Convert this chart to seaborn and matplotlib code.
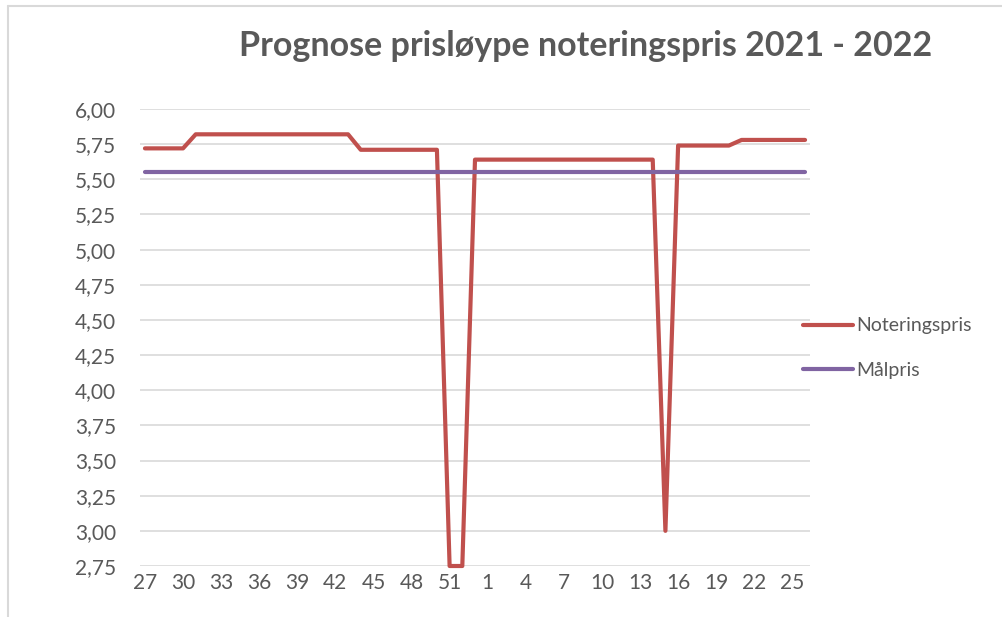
import matplotlib
matplotlib.use("Agg")
import matplotlib.pyplot as plt
import pandas as pd
import seaborn as sns
from matplotlib.lines import Line2D
from matplotlib.ticker import FixedLocator, FuncFormatter

# uke 27 (2021) til uke 26 (2022)
weeks = [27, 28, 29, 30, 31, 32, 33, 34, 35, 36, 37, 38, 39, 40, 41, 42, 43,
         44, 45, 46, 47, 48, 49, 50, 51, 52, 53,
         1, 2, 3, 4, 5, 6, 7, 8, 9, 10, 11, 12, 13, 14, 15, 16, 17, 18, 19,
         20, 21, 22, 23, 24, 25, 26]

noteringspris = [5.72, 5.72, 5.72, 5.72,
                 5.82, 5.82, 5.82, 5.82, 5.82, 5.82, 5.82, 5.82, 5.82, 5.82,
                 5.82, 5.82, 5.82,
                 5.71, 5.71, 5.71, 5.71, 5.71, 5.71, 5.71,
                 2.75, 2.75,
                 5.64, 5.64, 5.64, 5.64, 5.64, 5.64, 5.64, 5.64, 5.64, 5.64,
                 5.64, 5.64, 5.64, 5.64, 5.64,
                 3.00,
                 5.74, 5.74, 5.74, 5.74, 5.74,
                 5.78, 5.78, 5.78, 5.78, 5.78, 5.78]

malpris = [5.55, 5.55, 5.55, 5.55, 5.55, 5.55, 5.55, 5.55, 5.55, 5.55,
           5.55, 5.55, 5.55, 5.55, 5.55, 5.55, 5.55, 5.55, 5.55, 5.55,
           5.55, 5.55, 5.55, 5.55, 5.55, 5.55, 5.55, 5.55, 5.55, 5.55,
           5.55, 5.55, 5.55, 5.55, 5.55, 5.55, 5.55, 5.55, 5.55, 5.55,
           5.55, 5.55, 5.55, 5.55, 5.55, 5.55, 5.55, 5.55, 5.55, 5.55,
           5.55, 5.55, 5.55]

y_ticks = [2.75, 3.00, 3.25, 3.50, 3.75, 4.00, 4.25, 4.50, 4.75, 5.00,
           5.25, 5.50, 5.75, 6.00]

TEXT = "#595959"
GRID = "#d9d9d9"
colors = {"Noteringspris": "#c0504d", "Målpris": "#8064a2"}

sns.set_style("white")
plt.rcParams["font.family"] = ["Lato", "DejaVu Sans"]

pos = list(range(len(weeks)))
df = pd.concat([
    pd.DataFrame({"pos": pos, "pris": noteringspris, "serie": "Noteringspris"}),
    pd.DataFrame({"pos": pos, "pris": malpris, "serie": "Målpris"}),
])

fig = plt.figure(figsize=(10.03, 6.17), dpi=100)
ax = fig.add_axes([140 / 1003, 51 / 617, 670 / 1003, 457 / 617])

sns.lineplot(data=df, x="pos", y="pris", hue="serie", palette=colors,
             linewidth=3.0, ax=ax, legend=False, sort=False)
for line in ax.lines:
    line.set_solid_capstyle("round")
    line.set_solid_joinstyle("round")
    line.set_clip_on(False)
ax.set_xlim(-0.39, len(weeks) - 1 + 0.39)
ax.set_ylim(2.75, 6.0)

ax.yaxis.set_major_locator(FixedLocator(y_ticks))
ax.yaxis.set_major_formatter(FuncFormatter(lambda v, _: f"{v:.2f}".replace(".", ",")))
tick_pos = pos[::3]
ax.set_xticks(tick_pos)
ax.set_xticklabels([str(weeks[i]) for i in tick_pos])

ax.grid(axis="y", color=GRID, linewidth=1.2)
ax.set_axisbelow(True)
for s in ax.spines.values():
    s.set_visible(False)
ax.tick_params(axis="both", length=0, labelsize=15, colors=TEXT)
ax.tick_params(axis="y", pad=17)
ax.tick_params(axis="x", pad=5)
ax.set_xlabel("")
ax.set_ylabel("")

handles = [Line2D([], [], color=colors[k], linewidth=3.0, solid_capstyle="round")
           for k in ["Noteringspris", "Målpris"]]
fig.legend(handles, ["Noteringspris", "Målpris"], loc="center left",
           bbox_to_anchor=(803 / 1003, 1 - 348 / 617), frameon=False,
           fontsize=14, handlelength=2.55, handletextpad=0.2,
           labelspacing=1.4, labelcolor=TEXT, borderpad=0, borderaxespad=0)

fig.text(586 / 1003, 1 - 46 / 617, "Prognose prisløype noteringspris 2021 - 2022",
         ha="center", va="center", fontsize=24.5, fontweight="bold", color=TEXT)

fig.add_artist(Line2D([8 / 1003, 8 / 1003], [0, 1 - 6 / 617], color=GRID,
                      linewidth=1.5, transform=fig.transFigure))
fig.add_artist(Line2D([8 / 1003, 1], [1 - 6 / 617, 1 - 6 / 617], color=GRID,
                      linewidth=1.5, transform=fig.transFigure))

fig.savefig("out.png", dpi=100)
